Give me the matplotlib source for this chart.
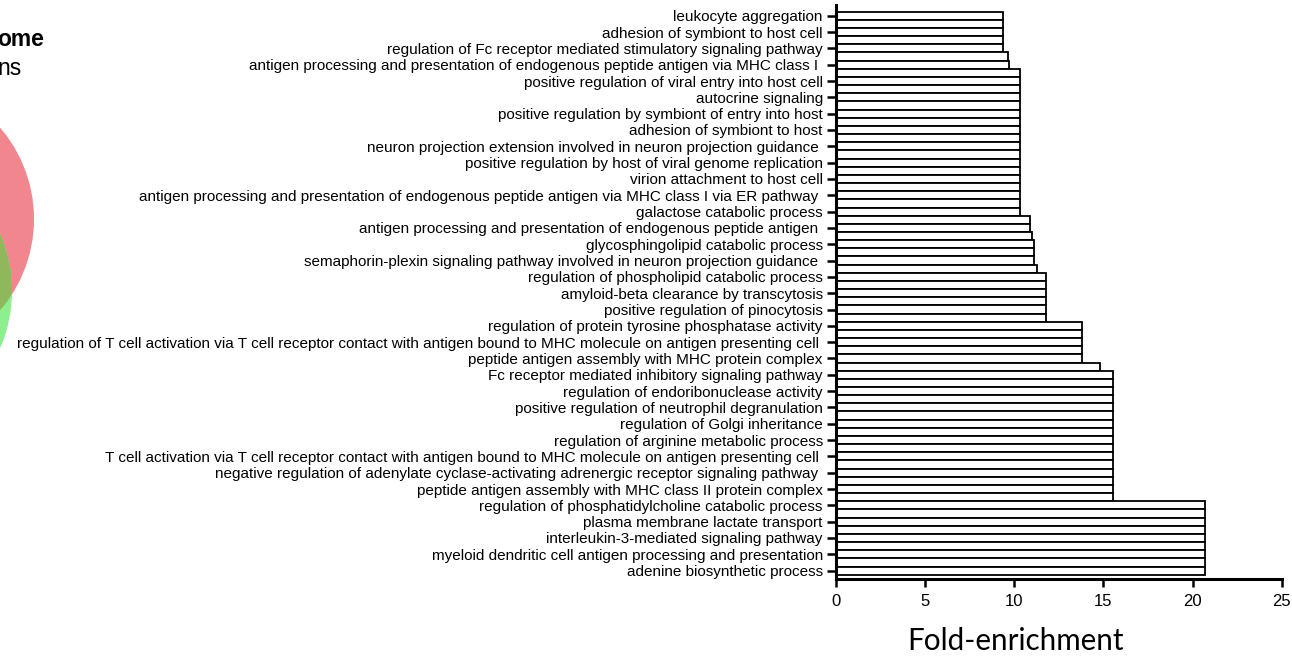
import matplotlib
matplotlib.use("Agg")
import matplotlib.pyplot as plt
from matplotlib.patches import Circle

plt.rcParams['font.family'] = ['Liberation Sans', 'DejaVu Sans']

# GO terms, top to bottom (only every other bar carries a label)
terms = [
    "leukocyte aggregation",
    "adhesion of symbiont to host cell",
    "regulation of Fc receptor mediated stimulatory signaling pathway",
    "antigen processing and presentation of endogenous peptide antigen via MHC class I ",
    "positive regulation of viral entry into host cell",
    "autocrine signaling",
    "positive regulation by symbiont of entry into host",
    "adhesion of symbiont to host",
    "neuron projection extension involved in neuron projection guidance ",
    "positive regulation by host of viral genome replication",
    "virion attachment to host cell",
    "antigen processing and presentation of endogenous peptide antigen via MHC class I via ER pathway ",
    "galactose catabolic process",
    "antigen processing and presentation of endogenous peptide antigen ",
    "glycosphingolipid catabolic process",
    "semaphorin-plexin signaling pathway involved in neuron projection guidance ",
    "regulation of phospholipid catabolic process",
    "amyloid-beta clearance by transcytosis",
    "positive regulation of pinocytosis",
    "regulation of protein tyrosine phosphatase activity",
    "regulation of T cell activation via T cell receptor contact with antigen bound to MHC molecule on antigen presenting cell ",
    "peptide antigen assembly with MHC protein complex",
    "Fc receptor mediated inhibitory signaling pathway",
    "regulation of endoribonuclease activity",
    "positive regulation of neutrophil degranulation",
    "regulation of Golgi inheritance",
    "regulation of arginine metabolic process",
    "T cell activation via T cell receptor contact with antigen bound to MHC molecule on antigen presenting cell ",
    "negative regulation of adenylate cyclase-activating adrenergic receptor signaling pathway ",
    "peptide antigen assembly with MHC class II protein complex",
    "regulation of phosphatidylcholine catabolic process",
    "plasma membrane lactate transport",
    "interleukin-3-mediated signaling pathway",
    "myeloid dendritic cell antigen processing and presentation",
    "adenine biosynthetic process",
]

# fold enrichment of every bar, top to bottom
fold = [
    9.38, 9.38, 9.38, 9.38, 9.38, 9.63, 9.72,
    10.32, 10.32, 10.32, 10.32, 10.32, 10.32, 10.32, 10.32, 10.32,
    10.32, 10.32, 10.32, 10.32, 10.32, 10.32, 10.32, 10.32, 10.32,
    10.88, 10.88, 11.01, 11.12, 11.12, 11.12, 11.25,
    11.80, 11.80, 11.80, 11.80, 11.80, 11.80,
    13.80, 13.80, 13.80, 13.80, 13.80, 14.80,
    15.52, 15.52, 15.52, 15.52, 15.52, 15.52, 15.52, 15.52,
    15.52, 15.52, 15.52, 15.52, 15.52, 15.52, 15.52, 15.52,
    20.72, 20.72, 20.72, 20.72, 20.72, 20.72, 20.72, 20.72, 20.72,
]

xticks = [0, 5, 10, 15, 20, 25]

W, H = 1292, 656
fig = plt.figure(figsize=(W / 100, H / 100), dpi=100)

# leftover venn panel on the left edge
bg = fig.add_axes([0, 0, 1, 1], zorder=0)
bg.set_xlim(0, W)
bg.set_ylim(H, 0)
bg.axis('off')
pink = Circle((-106, 219), 140, facecolor='#f2868f', edgecolor='none')
green = Circle((-132, 291), 144, facecolor='#8df08f', edgecolor='none')
both = Circle((-132, 291), 144, facecolor='#8fb85c', edgecolor='none')
bg.add_patch(pink)
bg.add_patch(green)
bg.add_patch(both)
both.set_clip_path(pink)
bg.text(-3, 46, "ome", fontsize=16.5, fontweight='bold', ha='left', va='baseline')
bg.text(-3, 75, "ns", fontsize=16.5, ha='left', va='baseline')

# bar chart
ax = fig.add_axes([836 / W, 77 / H, 445.7 / W, 574 / H], zorder=1)
ax.patch.set_alpha(0)
pos = list(range(len(fold)))
ax.barh(pos, fold, height=1.0, color='white', edgecolor='black', linewidth=1.3)
ax.set_xlim(0, 25)
ax.set_ylim(69.03, -1.32)
ax.set_xticks(xticks)
ax.set_yticks(pos[::2])
ax.set_yticklabels(terms)

for s in ['top', 'right']:
    ax.spines[s].set_visible(False)
for s in ['left', 'bottom']:
    ax.spines[s].set_linewidth(2.2)

ax.tick_params(axis='y', length=6.5, width=1.8, labelsize=10.95, pad=3)
ax.tick_params(axis='x', length=5.5, width=1.8, labelsize=12, pad=5)

fig.text(1016 / W, 1 - 641 / H, "Fold-enrichment", fontsize=21.3, family='Lato',
         ha='center', va='center')

plt.savefig("out.png", dpi=100)
